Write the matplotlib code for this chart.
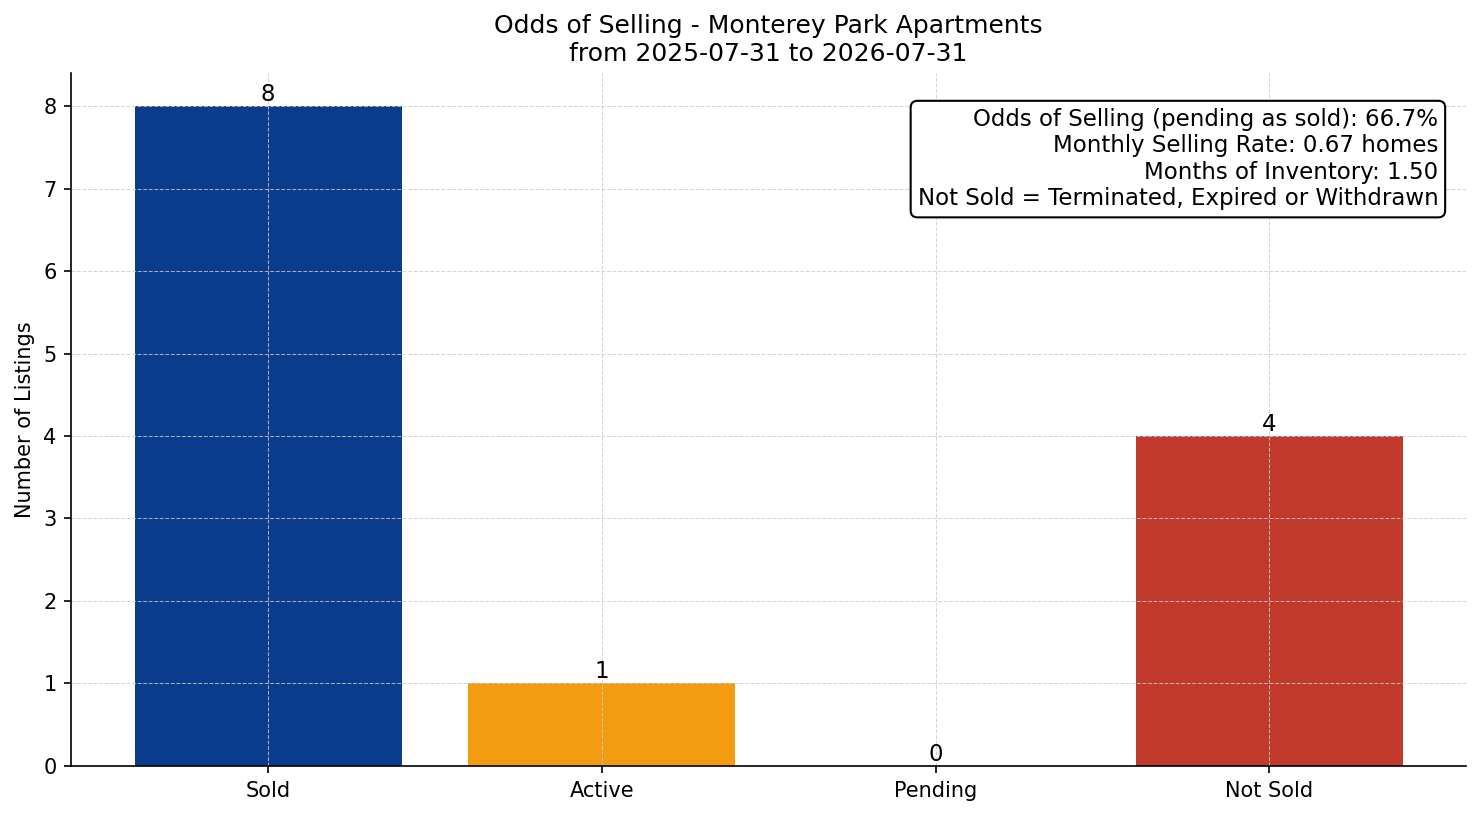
import matplotlib
matplotlib.use('Agg')
import matplotlib.pyplot as plt

# Listing status counts
categories = ['Sold', 'Active', 'Pending', 'Not Sold']
counts = [8, 1, 0, 4]
bar_colors = ['#0a3b8c', '#f39c12', '#2e86c1', '#c0392b']

title = 'Odds of Selling - Monterey Park Apartments\nfrom 2025-07-31 to 2026-07-31'
stats_lines = [
    'Odds of Selling (pending as sold): 66.7%',
    'Monthly Selling Rate: 0.67 homes',
    'Months of Inventory: 1.50',
    'Not Sold = Terminated, Expired or Withdrawn',
]

fig = plt.figure(figsize=(1481 / 150, 816 / 150), dpi=150)
ax = fig.add_axes([0.048, 0.0613, 0.942, 0.8492])

bars = ax.bar(categories, counts, color=bar_colors, width=0.8)

# Value labels on top of each bar
for rect, val in zip(bars, counts):
    ax.text(rect.get_x() + rect.get_width() / 2, rect.get_height(), str(val),
            ha='center', va='bottom', fontsize=11)

ax.set_title(title, fontsize=12)
ax.set_ylabel('Number of Listings', fontsize=10)
ax.tick_params(labelsize=10)
ax.grid(True, linestyle='--', linewidth=0.5, color='#cccccc', alpha=0.8)
ax.spines['top'].set_visible(False)
ax.spines['right'].set_visible(False)

# Stats box in the top right corner
ax.text(0.98, 0.95, '\n'.join(stats_lines), transform=ax.transAxes,
        ha='right', va='top', fontsize=11,
        bbox=dict(boxstyle='round,pad=0.3', facecolor='white', edgecolor='black'))

plt.savefig('out.png', dpi=150)
